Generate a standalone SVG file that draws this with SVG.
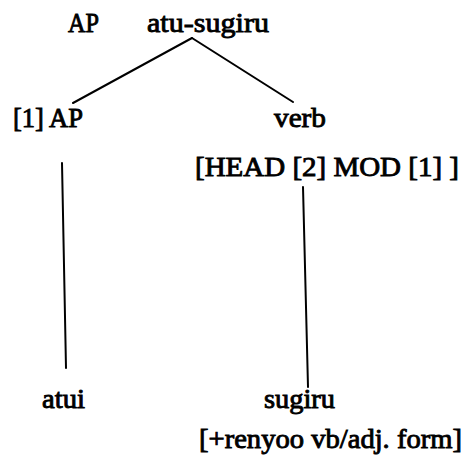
<svg xmlns="http://www.w3.org/2000/svg" width="465" height="468" viewBox="0 0 465 468">
<style>
.t{font-family:'Liberation Serif', 'Times New Roman', Times, serif;font-size:28px;fill:#000;stroke:#000;stroke-width:0.9px}
.e{stroke:#000;stroke-width:2;fill:none;stroke-linecap:round}
</style>
<rect width="465" height="468" fill="#fff"/>
<g id="edges">
<line class="e" x1="192" y1="38" x2="73" y2="103"/>
<line class="e" x1="192" y1="38" x2="293" y2="102"/>
<line class="e" x1="62" y1="163" x2="66" y2="368"/>
<line class="e" x1="303" y1="187" x2="308" y2="387"/>
</g>
<g id="root" class="t">
<text x="68" y="32" textLength="31" lengthAdjust="spacingAndGlyphs">AP</text>
<text x="147" y="32" textLength="122" lengthAdjust="spacingAndGlyphs">atu-sugiru</text>
</g>
<g id="ap" class="t">
<text x="13" y="127" textLength="70" lengthAdjust="spacingAndGlyphs">[1] AP</text>
</g>
<g id="verb" class="t">
<text x="274" y="127" textLength="52" lengthAdjust="spacingAndGlyphs">verb</text>
<text x="195" y="176" textLength="264" lengthAdjust="spacingAndGlyphs">[HEAD [2] MOD [1] ]</text>
</g>
<g id="atui" class="t">
<text x="42" y="408" textLength="43" lengthAdjust="spacingAndGlyphs">atui</text>
</g>
<g id="sugiru" class="t">
<text x="264" y="408" textLength="71" lengthAdjust="spacingAndGlyphs">sugiru</text>
<text x="199" y="448" textLength="263" lengthAdjust="spacingAndGlyphs">[+renyoo vb/adj. form]</text>
</g>
</svg>
